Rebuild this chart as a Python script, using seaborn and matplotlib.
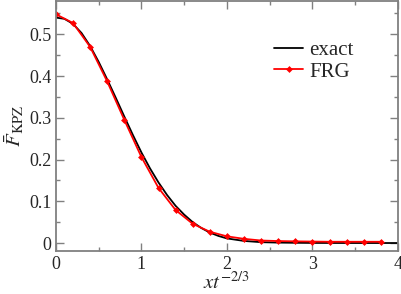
import numpy as np
import pandas as pd
import matplotlib
matplotlib.use("Agg")
import matplotlib.pyplot as plt
import seaborn as sns
from matplotlib.ticker import MultipleLocator

# exact KPZ scaling function
x_exact = [0.0, 0.1, 0.2, 0.3, 0.4, 0.5, 0.6, 0.7, 0.8, 0.9, 1.0, 1.1, 1.2, 1.3,
           1.4, 1.5, 1.6, 1.7, 1.8, 1.9, 2.0, 2.2, 2.4, 2.6, 2.8, 3.0, 3.5, 4.0]
f_exact = [0.540, 0.537, 0.525, 0.503, 0.472, 0.434, 0.392, 0.348, 0.303, 0.259,
           0.217, 0.179, 0.145, 0.115, 0.089, 0.068, 0.050, 0.036, 0.025, 0.017,
           0.011, 0.005, 0.002, 0.001, 0.0005, 0.0002, 0.0, 0.0]

# FRG points
x_frg = [0.0, 0.2, 0.4, 0.6, 0.8, 1.0, 1.2, 1.4, 1.6, 1.8, 2.0, 2.2, 2.4, 2.6,
         2.8, 3.0, 3.2, 3.4, 3.6, 3.8]
f_frg = [0.548, 0.527, 0.470, 0.387, 0.295, 0.206, 0.132, 0.079, 0.046, 0.027,
         0.016, 0.010, 0.006, 0.0047, 0.004, 0.0035, 0.003, 0.003, 0.003, 0.003]

sns.set_style("ticks")
plt.rcParams["font.family"] = ["Liberation Serif", "DejaVu Serif"]
plt.rcParams["mathtext.fontset"] = "stix"

fig = plt.figure(figsize=(4.02, 2.94), dpi=100)
ax = fig.add_axes([0.139, 0.145, 0.851, 0.852])

sns.lineplot(x=x_exact, y=f_exact, ax=ax, color="black", lw=1.3, label="exact")
sns.lineplot(x=x_frg, y=f_frg, ax=ax, color="red", lw=1.3, marker="D",
             markersize=3.5, markeredgewidth=0, label="FRG")

ax.set_xlim(0, 4)
ax.set_ylim(-0.02, 0.58)
ax.xaxis.set_major_locator(MultipleLocator(1))
ax.xaxis.set_minor_locator(MultipleLocator(0.5))
ax.set_yticks([0, 0.1, 0.2, 0.3, 0.4, 0.5])
ax.set_yticklabels(["0", "0.1", "0.2", "0.3", "0.4", "0.5"])
ax.yaxis.set_minor_locator(MultipleLocator(0.05))

gray = "#808080"
for s in ax.spines.values():
    s.set_color(gray)
    s.set_linewidth(1.3)
ax.tick_params(which="both", direction="in", top=True, right=True, color=gray,
               labelsize=13, width=1.0)
ax.tick_params(which="major", length=6, pad=3)
ax.tick_params(which="minor", length=3)

ax.set_xlabel(r"$xt^{\mathrm{-2/3}}$", fontsize=15, labelpad=0)
ax.set_ylabel(r"$\bar{F}_{\mathrm{KPZ}}$", fontsize=15, labelpad=2)

ax.legend(loc="upper right", bbox_to_anchor=(0.895, 0.875), frameon=False,
          fontsize=15, handlelength=1.4, handletextpad=0.3, labelspacing=0.1,
          borderaxespad=0)

fig.savefig("out.png", dpi=100)
